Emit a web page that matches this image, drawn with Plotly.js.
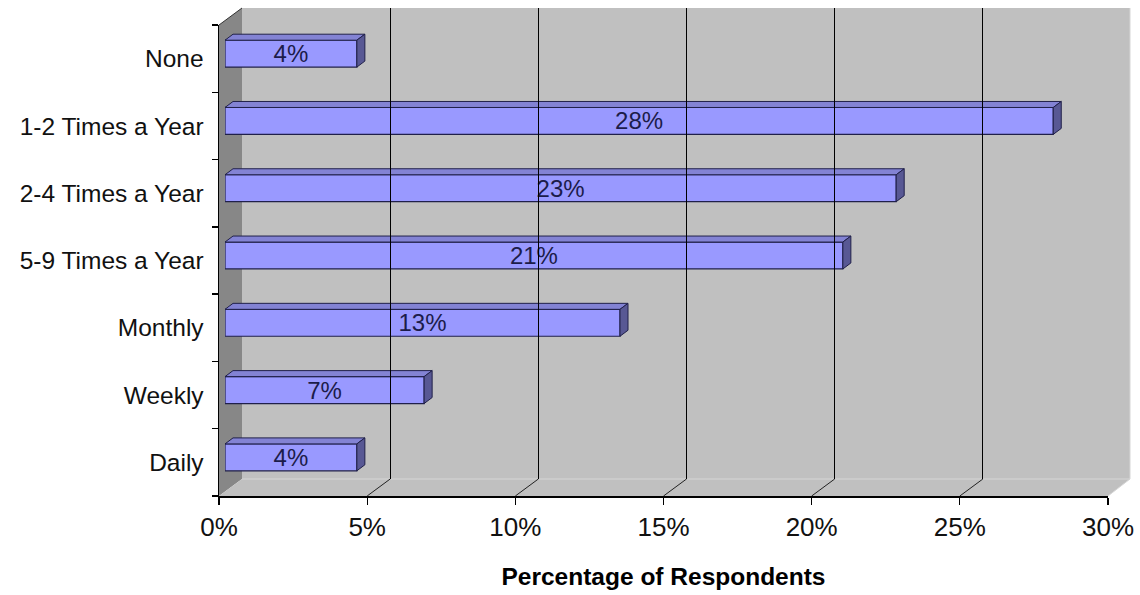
<!DOCTYPE html>
<html>
<head>
<meta charset="utf-8">
<script src="https://cdn.plot.ly/plotly-3.0.1.min.js"></script>
<style>html,body{margin:0;padding:0;background:#fff;}#chart{width:1140px;height:595px;}</style>
</head>
<body>
<div id="chart"></div>
<script>
// ---- data ----
const categories = ['None', '1-2 Times a Year', '2-4 Times a Year', '5-9 Times a Year', 'Monthly', 'Weekly', 'Daily'];
const values = [4.45, 27.95, 22.65, 20.85, 13.33, 6.72, 4.45];
const barLabels = ['4%', '28%', '23%', '21%', '13%', '7%', '4%'];
const xTickVals = [0, 5, 10, 15, 20, 25, 30];
const xTickText = ['0%', '5%', '10%', '15%', '20%', '25%', '30%'];
const xTitle = 'Percentage of Respondents';

// ---- layout geometry (pixels) ----
const W = 1140, H = 595;
const mL = 219, mR = 10, mT = 8, mB = 99;
const PW = W - mL - mR, PH = H - mT - mB;   // paper area
const FW = 889, FH = 471;                    // front plane size
const DX = 23, DY = 17;                      // wall depth
const BX = 6, BY = 5;                        // bar front plane offset
const bdx = 8, bdy = 6;                      // bar depth (px)
const XMAX = 30, n = categories.length;
const FONT = 'Liberation Sans, Arial, sans-serif';

const pos = categories.map((c, i) => n - 1 - i);
const dxU = bdx / (FW / XMAX);
const dyU = bdy / (FH / n);
const h = 0.2;

const navy = '#20204a';
const traces = [];
traces.push({
  type: 'bar', orientation: 'h', x: values, y: pos, width: 0.4,
  xaxis: 'x2', yaxis: 'y2',
  marker: {color: '#9999ff', line: {color: navy, width: 1.2}},
  text: barLabels, textposition: 'inside', insidetextanchor: 'middle',
  constraintext: 'none', textangle: 0,
  textfont: {family: FONT, size: 24, color: '#1c1c4a'},
  hoverinfo: 'skip', showlegend: false
});
values.forEach((v, i) => {
  const p = pos[i];
  traces.push({
    type: 'scatter', mode: 'lines', xaxis: 'x2', yaxis: 'y2',
    x: [0, v, v + dxU, dxU, 0], y: [p + h, p + h, p + h + dyU, p + h + dyU, p + h],
    fill: 'toself', fillcolor: '#8383d4', line: {color: navy, width: 1},
    hoverinfo: 'skip', showlegend: false
  });
  traces.push({
    type: 'scatter', mode: 'lines', xaxis: 'x2', yaxis: 'y2',
    x: [v, v, v + dxU, v + dxU, v], y: [p - h, p + h, p + h + dyU, p - h + dyU, p - h],
    fill: 'toself', fillcolor: '#585894', line: {color: navy, width: 1},
    hoverinfo: 'skip', showlegend: false
  });
});
// anchor traces for the front and back axes
traces.push({type: 'scatter', mode: 'markers', x: [], y: [], xaxis: 'x', yaxis: 'y', hoverinfo: 'skip', showlegend: false});
traces.push({type: 'scatter', mode: 'markers', x: [], y: [], xaxis: 'x3', yaxis: 'y3', hoverinfo: 'skip', showlegend: false});

const px = v => v / PW, py = v => v / PH;
const fx = v => px(v / XMAX * FW);

const shapes = [];
// back wall
shapes.push({type: 'rect', xref: 'paper', yref: 'paper', x0: px(DX), x1: 1, y0: py(DY), y1: 1,
  fillcolor: '#c0c0c0', line: {width: 0}, layer: 'below'});
// left wall
shapes.push({type: 'path', xref: 'paper', yref: 'paper', layer: 'below',
  path: `M 0 0 L 0 ${py(FH)} L ${px(DX)} 1 L ${px(DX)} ${py(DY)} Z`,
  fillcolor: '#878787', line: {width: 0}});
// floor
shapes.push({type: 'path', xref: 'paper', yref: 'paper', layer: 'below',
  path: `M 0 0 L ${px(FW)} 0 L 1 ${py(DY)} L ${px(DX)} ${py(DY)} Z`,
  fillcolor: '#c0c0c0', line: {width: 0}});
// light edges
shapes.push({type: 'line', xref: 'paper', yref: 'paper', layer: 'below', x0: px(DX), x1: 1, y0: py(DY), y1: py(DY), line: {color: '#d6d6d6', width: 1}});
shapes.push({type: 'line', xref: 'paper', yref: 'paper', layer: 'below', x0: 1, x1: 1, y0: py(DY), y1: 1, line: {color: '#d6d6d6', width: 1}});
shapes.push({type: 'line', xref: 'paper', yref: 'paper', layer: 'below', x0: px(FW), x1: 1, y0: 0, y1: py(DY), line: {color: '#d6d6d6', width: 1}});
// left wall top edge
shapes.push({type: 'line', xref: 'paper', yref: 'paper', layer: 'below', x0: 0, x1: px(DX), y0: py(FH), y1: 1, line: {color: '#333', width: 1}});
// floor grid lines
xTickVals.filter(v => v > 0 && v < XMAX).forEach(v => {
  shapes.push({type: 'line', xref: 'paper', yref: 'paper', layer: 'below',
    x0: fx(v), y0: 0, x1: fx(v) + px(DX), y1: py(DY), line: {color: '#222', width: 1}});
});

const layout = {
  width: W, height: H,
  margin: {l: mL, r: mR, t: mT, b: mB, pad: 0},
  paper_bgcolor: '#ffffff', plot_bgcolor: 'rgba(0,0,0,0)',
  font: {family: FONT, color: '#000'},
  showlegend: false,
  xaxis: {
    domain: [0, px(FW)], range: [0, XMAX], anchor: 'y',
    tickmode: 'array', tickvals: xTickVals, ticktext: xTickText,
    ticks: 'outside', ticklen: 7, tickcolor: '#000', tickwidth: 1.3,
    showline: true, linecolor: '#000', linewidth: 1.5, showgrid: false, zeroline: false,
    tickfont: {family: FONT, size: 26, color: '#111'},
    title: {text: xTitle, font: {family: FONT, size: 24.5, color: '#000', weight: 'bold'}, standoff: 27}
  },
  yaxis: {
    domain: [0, py(FH)], range: [-0.5, n - 0.5], anchor: 'x',
    tickmode: 'array', tickvals: pos, ticktext: categories,
    ticks: 'outside', ticklen: 6, tickcolor: 'rgba(0,0,0,0)',
    minor: {tickmode: 'array', tickvals: pos.map(p => p + 0.5).concat([-0.5]), ticks: 'outside', ticklen: 6, tickcolor: '#000', tickwidth: 1.3, showgrid: false},
    showline: true, linecolor: '#000', linewidth: 1.5, showgrid: false, zeroline: false,
    tickfont: {family: FONT, size: 24.5, color: '#111'},
    ticklabelstandoff: 3
  },
  xaxis2: {domain: [px(BX), px(BX + FW)], range: [0, XMAX], anchor: 'y2', visible: false, fixedrange: true},
  yaxis2: {domain: [py(BY), py(BY + FH)], range: [-0.5, n - 0.5], anchor: 'x2', visible: false, fixedrange: true},
  xaxis3: {domain: [px(DX), 1], range: [0, XMAX], anchor: 'y3', showgrid: true, gridcolor: '#000', gridwidth: 1,
    tickmode: 'array', tickvals: xTickVals.filter(v => v > 0 && v < XMAX), showticklabels: false, ticks: '', showline: false, zeroline: false},
  yaxis3: {domain: [py(DY), 1], range: [0, 1], anchor: 'x3', visible: false},
  shapes: shapes
};

Plotly.newPlot('chart', traces, layout, {staticPlot: true, displayModeBar: false});
</script>
</body>
</html>
